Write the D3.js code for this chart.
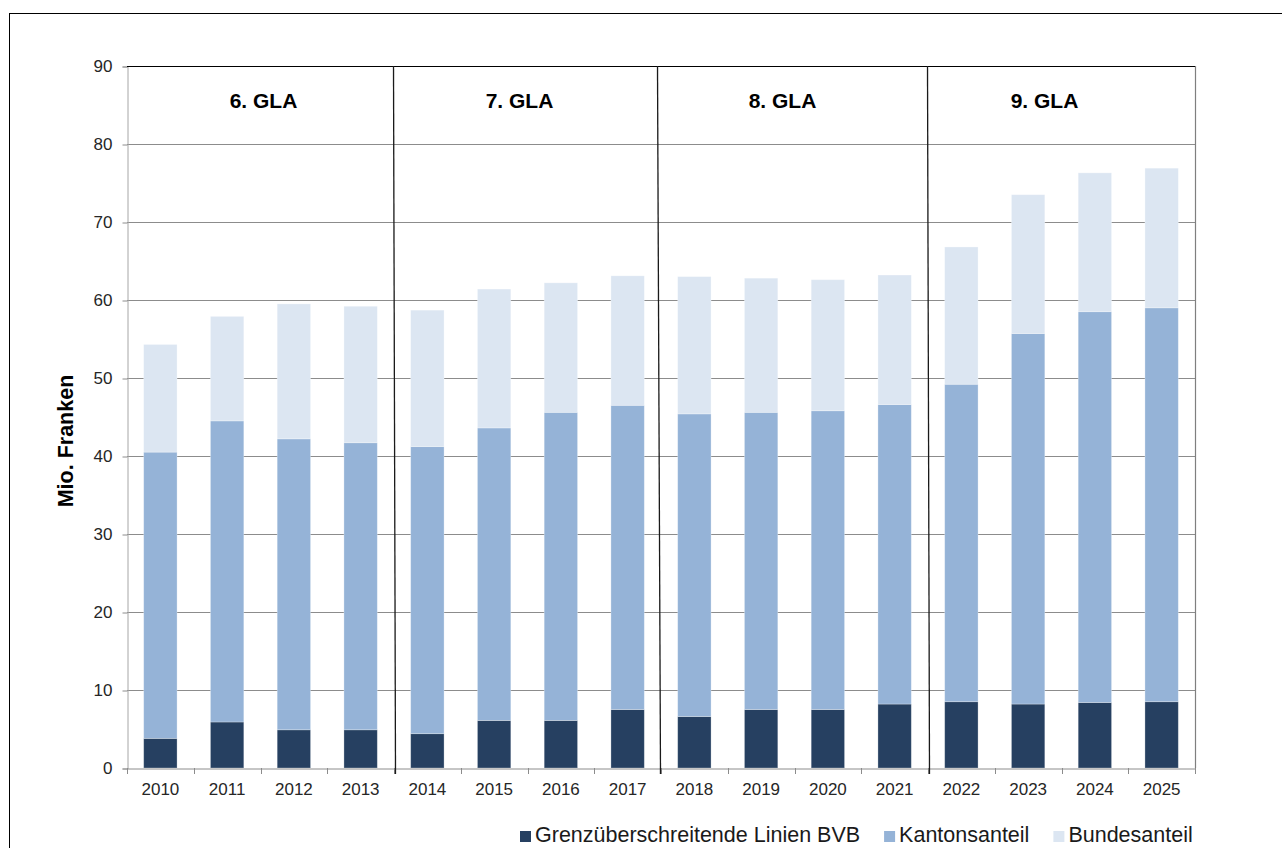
<!DOCTYPE html>
<html>
<head>
<meta charset="utf-8">
<script src="https://cdn.jsdelivr.net/npm/d3@7"></script>
<style>
body { margin: 0; background: #fff; }
svg { display: block; }
text { font-family: "Liberation Sans", Arial, sans-serif; }
</style>
</head>
<body>
<svg width="1282" height="848"></svg>
<script>
// values in Mio. Franken
const years  = ["2010","2011","2012","2013","2014","2015","2016","2017",
                "2018","2019","2020","2021","2022","2023","2024","2025"];
const bvb    = [3.8, 5.9, 4.9, 4.9, 4.4, 6.1, 6.1, 7.5, 6.6, 7.5, 7.5, 8.2, 8.5, 8.2, 8.4, 8.5];
const kanton = [36.7, 38.6, 37.3, 36.8, 36.8, 37.5, 39.5, 39.0, 38.8, 38.1, 38.3, 38.4, 40.7, 47.5, 50.1, 50.5];
const bund   = [13.8, 13.4, 17.3, 17.5, 17.5, 17.8, 16.6, 16.6, 17.6, 17.2, 16.8, 16.6, 17.6, 17.8, 17.8, 17.9];

const seriesNames = ["Grenzüberschreitende Linien BVB", "Kantonsanteil", "Bundesanteil"];
const seriesColors = ["#264061", "#95B3D7", "#DCE6F2"];

const periods     = ["6. GLA", "7. GLA", "8. GLA", "9. GLA"];
const periodStart = ["2010", "2014", "2018", "2022"];
const periodShift = [3, -8, -12, -17];   // labels sit a bit off-centre in the original

const yTicks = [0, 10, 20, 30, 40, 50, 60, 70, 80, 90];

const margin = {top: 66, right: 87, bottom: 80, left: 127};
const W = 1282, H = 848;
const svg = d3.select("svg");

// outer frame
svg.append("rect")
  .attr("x", 9.5).attr("y", 13.5)
  .attr("width", W + 20).attr("height", H + 20)
  .attr("fill", "none").attr("stroke", "#000").attr("stroke-width", 1);

const x = d3.scaleBand()
  .domain(years)
  .range([margin.left, W - margin.right])
  .padding(0);

const y = d3.scaleLinear()
  .domain([0, 90])
  .range([H - margin.bottom, margin.top]);

const rows = years.map((yr, i) => ({year: yr, a: bvb[i], b: kanton[i], c: bund[i]}));
const stacked = d3.stack().keys(["a", "b", "c"])(rows);

// gridlines
svg.append("g").selectAll("line")
  .data(yTicks.filter(t => t > 0 && t < 90))
  .join("line")
  .attr("x1", margin.left).attr("x2", W - margin.right)
  .attr("y1", d => Math.round(y(d)) + 0.5).attr("y2", d => Math.round(y(d)) + 0.5)
  .attr("stroke", "#8c8c8c").attr("stroke-width", 1.2);

// bars
const barW = x.bandwidth() * 0.5;
svg.append("g").selectAll("g")
  .data(stacked)
  .join("g")
  .attr("fill", (d, i) => seriesColors[i])
  .selectAll("rect")
  .data(d => d)
  .join("rect")
  .attr("x", d => x(d.data.year) + (x.bandwidth() - barW) / 2)
  .attr("width", barW)
  .attr("y", d => y(d[1]))
  .attr("height", d => y(d[0]) - y(d[1]))
  .attr("stroke", "rgba(255,255,255,0.35)")
  .attr("stroke-width", 0.8);

// y axis
const yAxis = svg.append("g")
  .attr("transform", `translate(${margin.left + 0.5},0.5)`)
  .call(d3.axisLeft(y).tickValues(yTicks).tickSize(5).tickPadding(10));
yAxis.select(".domain").attr("stroke", "#a6a6a6");
yAxis.selectAll(".tick line").attr("stroke", "#8c8c8c");
yAxis.selectAll(".tick text")
  .attr("font-size", 17).attr("fill", "#262626")
  .style("font-family", '"Liberation Sans", Arial, sans-serif');

// x axis
const xAxis = svg.append("g")
  .attr("transform", `translate(0,${Math.round(y(0)) + 0.5})`)
  .call(d3.axisBottom(x).tickSize(0).tickPadding(14));
xAxis.select(".domain").attr("stroke", "#8c8c8c");
xAxis.selectAll(".tick text")
  .attr("font-size", 17).attr("fill", "#262626")
  .style("font-family", '"Liberation Sans", Arial, sans-serif');
// category boundary ticks
svg.append("g").selectAll("line")
  .data(years.concat(["end"]))
  .join("line")
  .attr("x1", d => Math.round(d === "end" ? x.range()[1] : x(d)) + 0.5)
  .attr("x2", d => Math.round(d === "end" ? x.range()[1] : x(d)) + 0.5)
  .attr("y1", y(0)).attr("y2", y(0) + 6)
  .attr("stroke", "#8c8c8c");

// right border and top border
svg.append("line")
  .attr("x1", Math.round(x.range()[1]) + 0.5).attr("x2", Math.round(x.range()[1]) + 0.5)
  .attr("y1", y(90)).attr("y2", y(0))
  .attr("stroke", "#7f7f7f").attr("stroke-width", 1.2);
svg.append("line")
  .attr("x1", margin.left).attr("x2", x.range()[1])
  .attr("y1", Math.round(y(90)) + 0.5).attr("y2", Math.round(y(90)) + 0.5)
  .attr("stroke", "#000").attr("stroke-width", 1.2);

// period separators
svg.append("g").selectAll("line")
  .data(periodStart.slice(1))
  .join("line")
  .attr("x1", (d, i) => Math.round(x(d)) - (i === 1 ? 3.5 : 0.5))
  .attr("x2", (d, i) => Math.round(x(d)) + (i === 1 ? -0.5 : 1.5))
  .attr("y1", y(90)).attr("y2", y(0) + 6)
  .attr("stroke", "#1a1a1a").attr("stroke-width", 1.3);

// period labels
svg.append("g").selectAll("text")
  .data(periods)
  .join("text")
  .attr("x", (d, i) => x(periodStart[i]) + x.step() * 2 + periodShift[i])
  .attr("y", y(90) + 42)
  .attr("text-anchor", "middle")
  .attr("font-size", 21).attr("font-weight", "bold").attr("fill", "#000")
  .text(d => d);

// y title
svg.append("text")
  .attr("transform", "translate(73,441) rotate(-90)")
  .attr("text-anchor", "middle")
  .attr("font-size", 21.5).attr("font-weight", "bold").attr("fill", "#000")
  .text("Mio. Franken");

// legend
const legend = svg.append("g").attr("transform", "translate(520,842)");
let lx = 0;
seriesNames.forEach((name, i) => {
  legend.append("rect")
    .attr("x", lx).attr("y", -11)
    .attr("width", 11).attr("height", 11)
    .attr("fill", seriesColors[i]);
  const t = legend.append("text")
    .attr("x", lx + 15).attr("y", 0)
    .attr("font-size", 21.5).attr("fill", "#1a1a1a")
    .text(name);
  lx += 15 + t.node().getComputedTextLength() + 24;
});
</script>
</body>
</html>
